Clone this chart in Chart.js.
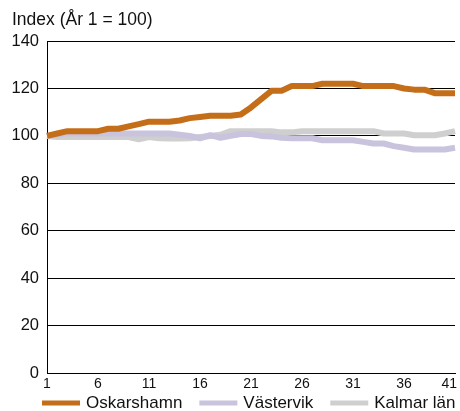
<!DOCTYPE html>
<html>
<head>
<meta charset="utf-8">
<script src="https://cdn.jsdelivr.net/npm/chart.js@4.4.0/dist/chart.umd.min.js"></script>
<style>
  html, body { margin: 0; padding: 0; background: #fff; }
  #wrap { width: 460px; height: 411px; }
</style>
</head>
<body>
<div id="wrap"><canvas id="chart"></canvas></div>
<script>
// Data
const years = ['1','2','3','4','5','6','7','8','9','10','11','12','13','14','15','16','17','18','19','20',
  '21','22','23','24','25','26','27','28','29','30','31','32','33','34','35','36','37','38','39','40','41'];
const tickLabels = ['1','6','11','16','21','26','31','36','41'];
const yTicks = [0, 20, 40, 60, 80, 100, 120, 140];

const oskarshamn = [100,101,102,102,102,102,103,103,104,105,106,106,106,106.5,107.5,108,108.5,108.5,108.5,109,
  112,115.5,119,119,121,121,121,122,122,122,122,121,121,121,121,120,119.5,119.5,118,118,118];
const vastervik = [100,100.5,101,101,101,101,101,101,101,101,101,101,101,100.5,100,99,100.3,99.2,100,100.8,
  100.8,100,99.8,99.2,99,99,99,98.2,98.2,98.2,98.2,97.5,96.8,96.8,95.7,95,94.3,94.3,94.3,94.3,95];
const kalmar = [100,99.5,99.5,99.5,99.5,99.5,99.5,99.5,99.5,98.6,99.5,99,98.9,98.9,99,99.5,100,100.5,102,102,
  102,102,102,101.5,101.5,102,102,102,102,102,102,102,102,101,101,101,100.3,100.3,100.3,101,102];

const seriesNames = ['Oskarshamn', 'Västervik', 'Kalmar län'];
const colors = ['#C56E1A', '#C9C3DE', '#CFCFCF'];

const FONT = 'Liberation Sans, Arial, Helvetica, sans-serif';

// Legend drawn by hand, in one row under the axis
const legendPlugin = {
  id: 'bottomLegend',
  afterDraw(chart) {
    const ctx = chart.ctx;
    ctx.save();
    ctx.font = '17px ' + FONT;
    ctx.textBaseline = 'middle';
    let x = 42;
    const y = 403;
    chart.data.datasets.forEach(ds => {
      ctx.fillStyle = ds.borderColor;
      ctx.fillRect(x, y - 2.5, 38, 5);
      ctx.fillStyle = '#111';
      ctx.fillText(ds.label, x + 44, y);
      x += 44 + ctx.measureText(ds.label).width + 17;
    });
    ctx.restore();
  }
};

const datasets = [oskarshamn, vastervik, kalmar].map((data, i) => ({
  label: seriesNames[i],
  data,
  borderColor: colors[i],
  backgroundColor: colors[i],
  borderWidth: 6,
  pointRadius: 0,
  tension: 0,
  borderJoinStyle: 'round',
  order: i + 1
}));

new Chart(document.getElementById('chart'), {
  type: 'line',
  data: { labels: years, datasets },
  options: {
    responsive: true,
    maintainAspectRatio: false,
    animation: false,
    layout: { padding: { left: 12, right: 5, top: 0, bottom: 15 } },
    plugins: {
      legend: { display: false },
      tooltip: { enabled: false },
      title: {
        display: true,
        text: 'Index (År 1 = 100)',
        align: 'start',
        color: '#111',
        font: { family: FONT, size: 17.5, weight: 'normal' },
        padding: { top: 10, bottom: 10 }
      }
    },
    scales: {
      x: {
        offset: false,
        grid: { display: false, drawTicks: false, tickLength: 0 },
        border: { display: true, color: '#000', width: 1 },
        ticks: {
          autoSkip: false,
          maxRotation: 0,
          padding: 3,
          color: '#111',
          font: { family: FONT, size: 14 },
          callback: (v, i) => {
            const l = years[i];
            if (!tickLabels.includes(l)) return null;
            return l === '41' ? '41   ' : l;
          }
        },
        afterFit: s => { s.paddingLeft = 0; s.paddingRight = 0; }
      },
      y: {
        min: 0,
        max: 140,
        afterBuildTicks: s => { s.ticks = yTicks.map(v => ({ value: v })); },
        grid: { color: '#000', lineWidth: 1, drawTicks: false },
        border: { display: true, color: '#000', width: 1 },
        ticks: {
          padding: 8,
          color: '#111',
          font: { family: FONT, size: 16.5 }
        },
        afterFit: s => { s.width = 35; }
      }
    }
  },
  plugins: [legendPlugin]
});
</script>
</body>
</html>
